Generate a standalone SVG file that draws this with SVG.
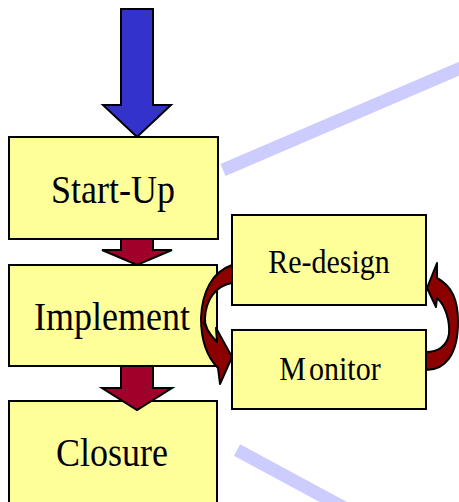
<svg xmlns="http://www.w3.org/2000/svg" width="459" height="502" viewBox="0 0 459 502">
  <style>
    .box { fill: #FFFF99; stroke: #000; stroke-width: 2; }
    .lbl { font-family: "Liberation Serif", "Times New Roman", serif; fill: #000; text-anchor: middle; }
    .big { font-size: 36px; }
    .small { font-size: 30px; }
    .guide { stroke: #CCCCFF; stroke-width: 13; fill: none; }
    .down { stroke: #000; stroke-width: 2; stroke-linejoin: miter; }
    .loop { fill: #8C0000; stroke: #000; stroke-width: 2; stroke-linejoin: round; }
  </style>

  <!-- pale guide bands -->
  <g id="guides">
    <line class="guide" x1="223" y1="170" x2="470" y2="64"/>
    <line class="guide" x1="237" y1="450" x2="350" y2="511"/>
  </g>

  <!-- process steps (labels slightly tall, as set in the slide) -->
  <g id="startup">
    <rect class="box" x="9" y="137" width="209" height="102"/>
    <text class="lbl big" transform="translate(113,203) scale(1,1.1)">Start-Up</text>
  </g>
  <g id="implement">
    <rect class="box" x="9" y="265" width="208" height="101"/>
    <text class="lbl big" transform="translate(112,330) scale(1,1.1)">Implement</text>
  </g>
  <g id="closure">
    <rect class="box" x="9" y="401" width="208" height="104"/>
    <text class="lbl big" transform="translate(112,466) scale(1,1.1)">Closure</text>
  </g>
  <g id="redesign">
    <rect class="box" x="232" y="215" width="194" height="90"/>
    <text class="lbl small" transform="translate(329,273) scale(1,1.1)">Re-design</text>
  </g>
  <g id="monitor">
    <rect class="box" x="232" y="330" width="194" height="79"/>
    <text class="lbl small" transform="translate(330,380) scale(1,1.1)">M<tspan dx="3">onitor</tspan></text>
  </g>

  <!-- connectors -->
  <g id="connectors">
    <!-- entry arrow -->
    <path class="down" fill="#3333CC" d="M121,9 H153 V105 H171 L137,137 L103,105 H121 Z"/>
    <!-- Start-Up to Implement -->
    <path class="down" fill="#A0002A" d="M121,239 H153 V250 H172 L137,265 L102,250 H121 Z"/>
    <!-- Implement to Closure -->
    <path class="down" fill="#A0002A" d="M121,366 H153 V388 H172 L137,410 L102,388 H121 Z"/>
    <!-- Re-design to Monitor -->
    <path class="loop" d="M232,265 C212,272 202,292 201,318 C201,340 207,357 218,368 L220,384 L232,357 L216,328 L217,342 C209,334 204,326 205,318 C206,300 215,286 232,283 Z"/>
    <path fill="none" stroke="#000" stroke-width="1.5" d="M203,322 C208,332 213,338 217,342"/>
    <!-- Monitor back to Re-design -->
    <path class="loop" d="M426,370 C445,370 458,355 458,322 C458,300 452,286 437,278 L437,263 L427,288 L436,307 L437,298 C446,306 450,322 449,334 C447,346 438,352 426,352 Z"/>
  </g>
</svg>
